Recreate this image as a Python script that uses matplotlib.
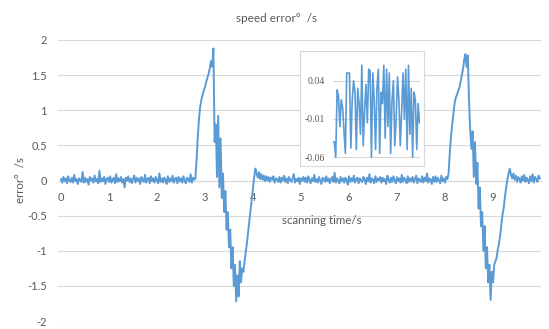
import numpy as np
import matplotlib
matplotlib.use("Agg")
import matplotlib.pyplot as plt

plt.rcParams['font.family'] = ['Lato', 'DejaVu Sans']

# ---------------- data ----------------
dt = 0.025  # sampling interval, s

baseline_1 = [
    0.02, -0.03, 0.05, -0.01, 0.03, -0.04, 0.06, 0.00, -0.02, 0.04,
    -0.03, 0.08, -0.01, 0.02, -0.05, 0.03, 0.01, -0.02, 0.12, -0.03,
    0.04, -0.02, 0.02, -0.06, 0.05, 0.00, 0.03, -0.03, 0.07, -0.01,
    0.02, -0.04, 0.14, -0.02, 0.03, -0.01, 0.05, -0.05, 0.02, 0.04,
    -0.02, 0.06, -0.03, 0.01, 0.04, -0.04, 0.09, -0.02, 0.03, -0.01,
    0.05, -0.03, 0.02, -0.10, 0.04, 0.00, 0.06, -0.02, 0.03, -0.04,
    0.02, 0.07, -0.03, 0.04, -0.01, 0.03, -0.05, 0.05, 0.01, -0.02,
    0.08, -0.03, 0.02, 0.04, -0.04, 0.06, -0.01, 0.03, -0.03, 0.05,
    0.00, -0.04, 0.10, -0.02, 0.03, -0.03, 0.04, 0.01, -0.05, 0.06,
    -0.02, 0.03, -0.01, 0.07, -0.03, 0.02, 0.04, -0.04, 0.05, -0.01,
    0.03, -0.03, 0.06, 0.00, -0.04, 0.04, 0.02, -0.02, 0.09, -0.03,
    0.04, 0.01,
]

event_1 = [
    0.03, 0.30, 0.62, 0.88, 1.05, 1.15, 1.22, 1.28, 1.33, 1.40,
    1.46, 1.52, 1.60, 1.70, 1.62, 1.88, 0.55, 0.80, 0.05, 0.92,
    -0.10, 0.60, -0.25, 0.10, -0.45, -0.15, -0.70, -0.45, -0.95, -0.70,
    -1.25, -0.95, -1.50, -1.20, -1.72, -1.35, -1.65, -1.15, -1.45, -1.25,
    -1.30, -1.15, -1.02, -0.88, -0.72, -0.57, -0.42, -0.26, -0.10, 0.05,
    0.17,
]

baseline_2 = [
    0.10, 0.04, 0.12, 0.02, 0.09, 0.01, 0.07, -0.01, 0.06, 0.00,
    0.05, -0.02, 0.04, 0.01, 0.06, -0.03, 0.03, 0.02, -0.02, 0.05,
    -0.03, 0.04, 0.00, 0.07, -0.02, 0.03, -0.04, 0.05, 0.01, -0.02,
    0.03, 0.09, -0.03, 0.02, -0.01, 0.04, -0.05, 0.03, 0.00, 0.05,
    -0.02, 0.04, -0.03, 0.06, 0.01, -0.04, 0.03, -0.01, 0.08, -0.02,
    0.02, -0.03, 0.05, 0.00, -0.05, 0.04, 0.02, -0.02, 0.06, -0.01,
    0.03, -0.04, 0.02, 0.05, -0.02, 0.11, -0.03, 0.03, 0.00, -0.04,
    0.05, -0.01, 0.03, -0.03, 0.04, 0.01, -0.06, 0.06, -0.02, 0.03,
    -0.01, 0.07, -0.03, 0.02, 0.04, -0.04, 0.03, 0.00, -0.02, 0.05,
    0.02, -0.05, 0.04, -0.01, 0.09, -0.03, 0.03, 0.01, -0.04, 0.06,
    -0.02, 0.03, 0.00, 0.05, -0.03, 0.04, -0.01, 0.02, -0.05, 0.07,
    0.01, -0.03, 0.04, -0.02, 0.06, 0.00, -0.04, 0.05, -0.01, 0.03,
    -0.03, 0.08, -0.02, 0.04, 0.01, -0.04, 0.06, -0.02, 0.03, -0.01,
    0.05, -0.03, 0.02, 0.07, -0.04, 0.03, 0.00, -0.02, 0.06, -0.03,
    0.04, -0.01, 0.10, -0.03, 0.03, 0.01, -0.05, 0.05, -0.02, 0.06,
    -0.02, 0.04, 0.00, -0.04, 0.07, -0.01, 0.03, -0.03, 0.05,
]

event_2 = [
    0.02, 0.10, 0.40, 0.62, 0.80, 0.95, 1.10, 1.18, 1.22, 1.28,
    1.32, 1.40, 1.50, 1.58, 1.72, 1.80, 1.62, 1.78, 1.15, 0.72,
    0.45, 0.70, 0.05, 0.55, -0.05, 0.25, -0.40, -0.10, -0.65, -0.45,
    -1.00, -0.65, -1.25, -0.95, -1.45, -1.20, -1.70, -1.30, -1.45, -1.20,
    -1.15, -1.10, -0.98, -0.90, -0.78, -0.62, -0.48, -0.38, -0.22, -0.10,
    0.02, 0.10, 0.17,
]

baseline_3 = [
    0.08, 0.03, 0.10, 0.01, 0.07, -0.02, 0.05, 0.02, -0.03, 0.06,
    0.00, 0.08, -0.02, 0.04, 0.01, -0.04, 0.06, -0.01, 0.09, -0.03,
    0.05, 0.02, -0.02, 0.07, 0.03,
]

inset_values = [
    -0.040, -0.040, -0.060, 0.028, 0.020, -0.020, 0.015, 0.005, -0.025, -0.055,
    0.050, 0.050, 0.050, -0.048, 0.015, 0.040, 0.025, -0.050, 0.030, 0.010,
    -0.030, 0.060, -0.045, 0.000, 0.035, -0.015, 0.055, 0.053, -0.060, 0.050,
    0.015, -0.050, 0.030, 0.055, -0.055, 0.025, 0.010, 0.060, -0.035, 0.055,
    -0.020, 0.050, -0.055, 0.015, 0.040, -0.045, -0.010, 0.045, 0.015, -0.045,
    0.000, 0.050, -0.010, 0.055, -0.050, 0.060, -0.030, 0.030, -0.060, 0.025,
    0.015, -0.050, 0.010, -0.015,
]

x_ticks = [0, 1, 2, 3, 4, 5, 6, 7, 8, 9]
y_ticks = [-2, -1.5, -1, -0.5, 0, 0.5, 1, 1.5, 2]
inset_ticks = [-0.06, -0.01, 0.04]

title = "speed error°  /s"
x_label = "scanning time/s"
y_label = "error°  /s"

# ---------------- figure ----------------
W, H = 549, 329
fig = plt.figure(figsize=(W / 100, H / 100), dpi=100)

def px_axes(left, top, right, bottom):
    return fig.add_axes([left / W, 1 - bottom / H, (right - left) / W, (bottom - top) / H])

LINE = '#5B9BD5'
GRID = '#D9D9D9'
TXT = '#595959'
FS = 8.0

error = np.array(baseline_1 + event_1 + baseline_2 + event_2 + baseline_3)
t = np.arange(len(error)) * dt

ax = px_axes(58, 40, 541, 321)
ax.plot(t, error, color=LINE, lw=1.4, zorder=3)
ax.set_xlim(-0.0625, 10.0)
ax.set_ylim(-2, 2)
ax.set_yticks(y_ticks)
ax.set_yticklabels([f"{v:g}" for v in y_ticks])
ax.set_xticks(x_ticks)
ax.set_xticklabels([str(v) for v in x_ticks])
ax.grid(axis='y', color=GRID, lw=0.8)
ax.set_axisbelow(True)
for s in ['left', 'right', 'top']:
    ax.spines[s].set_visible(False)
ax.spines['bottom'].set_position(('data', 0))
ax.spines['bottom'].set_color(GRID)
ax.tick_params(axis='both', length=0, colors=TXT, labelsize=FS)
ax.tick_params(axis='x', pad=8)
ax.tick_params(axis='y', pad=8)

fig.text(276 / W, 1 - 19 / H, title, ha='center', va='center', color=TXT, fontsize=8.5)
fig.text(322 / W, 1 - 221 / H, x_label, ha='center', va='center', color=TXT, fontsize=8.3)
fig.text(20 / W, 1 - 180 / H, y_label, ha='center', va='center', rotation=90,
         color=TXT, fontsize=8.3)

# inset box
box = px_axes(300, 51, 424, 166)
box.set_xticks([])
box.set_yticks([])
for s in box.spines.values():
    s.set_color(GRID)
    s.set_linewidth(0.8)
box.set_zorder(5)

ins = px_axes(333, 63.8, 419.5, 158.8)
ins.set_zorder(6)
ins.patch.set_alpha(0)
ins.plot(np.arange(len(inset_values)), inset_values, color=LINE, lw=1.2, zorder=3)
ins.set_xlim(0, len(inset_values) - 1)
ins.set_ylim(-0.062, 0.062)
ins.set_yticks(inset_ticks)
ins.set_yticklabels([f"{v:.2f}" for v in inset_ticks])
ins.set_xticks([])
ins.grid(axis='y', color=GRID, lw=0.8)
ins.set_axisbelow(True)
for s in ['left', 'right', 'top', 'bottom']:
    ins.spines[s].set_visible(False)
ins.tick_params(axis='y', length=0, colors=TXT, labelsize=7, pad=6)
for lab in ins.get_yticklabels():
    lab.set_family(['Liberation Serif', 'DejaVu Serif'])

fig.savefig('out.png', dpi=100)
